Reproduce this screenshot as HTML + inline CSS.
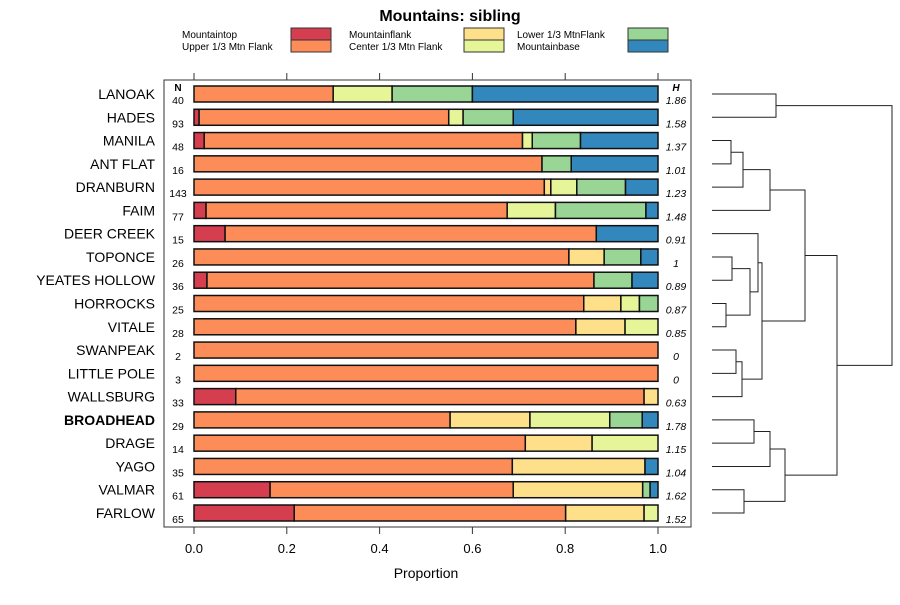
<!DOCTYPE html>
<html><head><meta charset="utf-8"><style>
body{margin:0;background:#fff;font-family:"Liberation Sans",sans-serif}
svg text{font-family:"Liberation Sans",sans-serif}
</style></head><body>
<svg id="c" width="900" height="600" xmlns="http://www.w3.org/2000/svg"></svg>
<script>
const categories=["LANOAK","HADES","MANILA","ANT FLAT","DRANBURN","FAIM","DEER CREEK","TOPONCE","YEATES HOLLOW","HORROCKS","VITALE","SWANPEAK","LITTLE POLE","WALLSBURG","BROADHEAD","DRAGE","YAGO","VALMAR","FARLOW"];
const nValues=[40,93,48,16,143,77,15,26,36,25,28,2,3,33,29,14,35,61,65];
const hLabels=["1.86","1.58","1.37","1.01","1.23","1.48","0.91","1","0.89","0.87","0.85","0","0","0.63","1.78","1.15","1.04","1.62","1.52"];
const seriesNames=["Mountaintop","Upper 1/3 Mtn Flank","Mountainflank","Center 1/3 Mtn Flank","Lower 1/3 MtnFlank","Mountainbase"];
const colors=["#D53E4F","#FC8D59","#FEE08B","#E6F598","#99D594","#3288BD"];
const mountaintop=[0,.011,.022,0,0,.026,.067,0,.028,0,0,0,0,.09,0,0,0,.164,.216];
const upperFlank=[.30,.538,.686,.75,.755,.649,.80,.808,.834,.84,.823,1,1,.88,.552,.714,.686,.524,.585];
const mountainflank=[0,0,0,0,.014,0,0,.076,0,.08,.106,0,0,.03,.172,.144,.286,.279,.169];
const centerFlank=[.127,.031,.021,0,.056,.104,0,0,0,.04,.071,0,0,0,.172,.142,0,0,.03];
const lowerFlank=[.173,.108,.104,.063,.105,.195,0,.079,.082,.04,0,0,0,0,.07,0,0,.016,0];
const mountainbase=[.40,.312,.167,.187,.07,.026,.133,.037,.056,0,0,0,0,0,.034,0,.028,.017,0];
const series=[mountaintop,upperFlank,mountainflank,centerFlank,lowerFlank,mountainbase];
const xTicks=[0,0.2,0.4,0.6,0.8,1.0];
const xTickLabels=["0.0","0.2","0.4","0.6","0.8","1.0"];
// dendrogram merges: [leftChild,rightChild,height]; leaves are 0..18, nodes 19+
const merges=[[0,1,776],[2,3,731],[20,4,743],[21,5,770],[7,8,732],[9,10,726],[23,24,750],[6,25,758],[11,12,736],[27,13,742],[26,28,762],[22,29,805],[14,15,754],[31,16,770],[17,18,744],[32,33,785],[30,34,837],[19,35,892]];

const svg=document.getElementById('c');const NS="http://www.w3.org/2000/svg";
function mk(t,a,txt){const e=document.createElementNS(NS,t);for(const k in a)e.setAttribute(k,a[k]);if(txt!==undefined)e.textContent=txt;svg.appendChild(e);return e;}
const x0=194,x1=658;const xs=v=>x0+v*(x1-x0);
const yTop=94,step=(513-94)/18;const ys=i=>yTop+i*step;
let t=mk('text',{x:450,y:21,'text-anchor':'middle','font-size':16,'font-weight':'bold'},'Mountains: sibling');


// legend
const lx=[182,349,517],sx=[291,464,628];
seriesNames.forEach((n,k)=>{const col=Math.floor(k/2),row=k%2;
 let tt=mk('text',{x:lx[col],y:38+row*12,'font-size':10},n);
 
 
 let r=mk('rect',{x:sx[col],y:28+row*12,width:40,height:12,fill:colors[k],stroke:'#333','stroke-width':1});
 
 });
// box
let box=mk('rect',{x:164,y:80,width:527,height:447,fill:'none',stroke:'#333','stroke-width':1});


xTicks.forEach((v,i)=>{
 let a=mk('line',{x1:xs(v),x2:xs(v),y1:73,y2:80,stroke:'#333'});
 
 
 let b=mk('line',{x1:xs(v),x2:xs(v),y1:527,y2:534,stroke:'#333'});
 
 
 let l=mk('text',{x:xs(v),y:553,'text-anchor':'middle','font-size':13},xTickLabels[i]);
 
 });
let xl=mk('text',{x:426,y:578,'text-anchor':'middle','font-size':14},'Proportion');


let nh=mk('text',{x:178,y:91,'text-anchor':'middle','font-size':10,'font-weight':'bold'},'N');


let hh=mk('text',{x:676,y:91,'text-anchor':'middle','font-size':10,'font-weight':'bold','font-style':'italic'},'H');


categories.forEach((c,i)=>{const y=ys(i);
 let l=mk('text',{x:155,y:y+5,'text-anchor':'end','font-size':14,'font-weight':c==='BROADHEAD'?'bold':'normal'},c);
 
 
 let n=mk('text',{x:178,y:y+10,'text-anchor':'middle','font-size':10.5},String(nValues[i]));
 
 
 let h=mk('text',{x:676,y:y+10,'text-anchor':'middle','font-size':10.5,'font-style':'italic'},hLabels[i]);
 
 
 let cum=0;
 series.forEach((s,k)=>{const v=s[i];if(v>0){
  let r=mk('rect',{x:xs(cum),y:y-8,width:xs(cum+v)-xs(cum),height:16,fill:colors[k],stroke:'#111','stroke-width':1.5});
  
  }
  cum+=v;});
});
// dendrogram
const leafX=712;const nodeY={},nodeX={};
categories.forEach((c,i)=>{nodeY[i]=ys(i);nodeX[i]=leafX;});
merges.forEach((m,k)=>{const id=19+k;const [a,b,h]=m;
 const p=mk('path',{d:`M${nodeX[a]},${nodeY[a]}H${h}V${nodeY[b]}H${nodeX[b]}`,fill:'none',stroke:'#222','stroke-width':1});
 
 
 nodeX[id]=h;nodeY[id]=(nodeY[a]+nodeY[b])/2;});
</script>
</body></html>
